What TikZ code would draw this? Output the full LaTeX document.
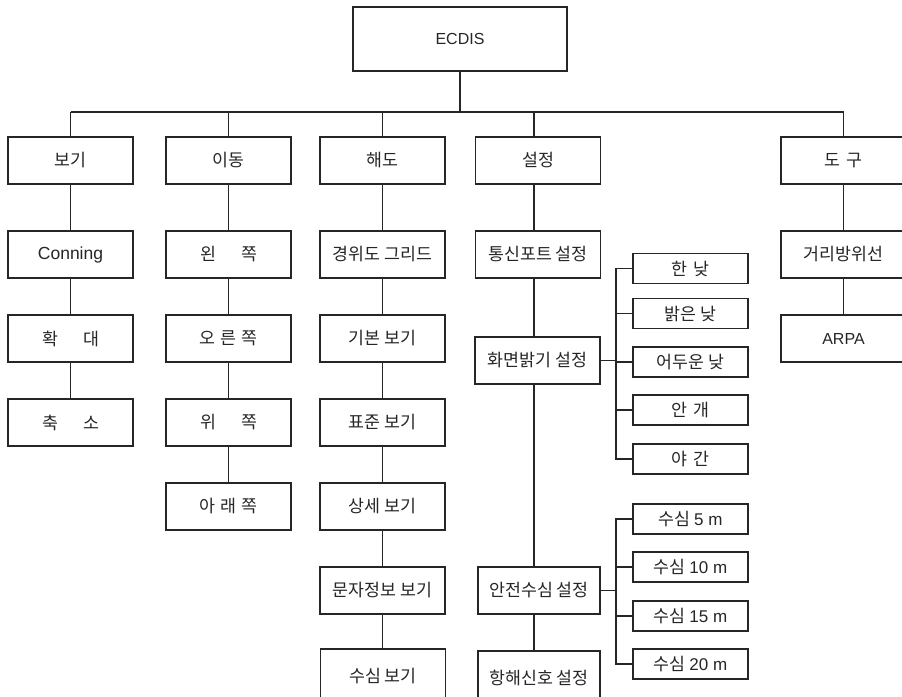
\documentclass[tikz,border=0pt]{standalone}
\usepackage{fontspec}
\setmainfont{Noto Sans CJK KR}
\newfontfamily\lat{Liberation Sans}
\newcommand\widegap{\hspace{1.45em}}
\newcommand\narrowgap{\hspace{0.3em}}
\begin{document}
\begin{tikzpicture}[x=1pt,y=-1pt,
  box/.style={draw=black!85, line width=1.6pt, fill=white, inner sep=0pt, text=black!85, font=\fontsize{17.3}{20}\selectfont},
  top/.style={box, minimum width=125pt, minimum height=47pt},
  sub/.style={box, minimum width=115pt, minimum height=30pt},
  ln/.style={draw=black!85, line width=1.6pt},
  caps/.style={font=\lat\fontsize{16}{18}\selectfont},
  latn/.style={font=\lat\fontsize{17.5}{20}\selectfont}]
\useasboundingbox (0,0) rectangle (902,696);
\clip (0,0) rectangle (902,696);
% root
\node[box, caps, minimum width=214pt, minimum height=64pt] (ecdis) at (460,39) {ECDIS};
% row 1
\node[top] (bogi) at (70.5,160.5) {보기};
\node[top] (idong) at (228.5,160.5) {이동};
\node[top] (haedo) at (382.5,160.5) {해도};
\node[top] (seol) at (538,160.5) {설정};
\node[top] (dogu) at (843.5,160.5) {도\narrowgap 구};
% row 2
\node[top, latn] (conning) at (70.5,254.5) {Conning};
\node[top] (wen) at (228.5,254.5) {왼\widegap 쪽};
\node[top] (grid) at (382.5,254.5) {경위도 그리드};
\node[top] (tong) at (538,254.5) {통신포트 설정};
\node[top] (geori) at (843.5,254.5) {거리방위선};
% row 3
\node[top] (hwak) at (70.5,338.5) {확\widegap 대};
\node[top] (oreun) at (228.5,338.5) {오\narrowgap 른\narrowgap 쪽};
\node[top] (gibon) at (382.5,338.5) {기본 보기};
\node[top, caps] (arpa) at (843.5,338.5) {ARPA};
\node[top] (hwa) at (537.5,360.5) {화면밝기 설정};
% row 4
\node[top] (chuk) at (70.5,422.5) {축\widegap 소};
\node[top] (wi) at (228.5,422.5) {위\widegap 쪽};
\node[top] (pyo) at (382.5,422.5) {표준 보기};
% row 5
\node[top] (arae) at (228.5,506.5) {아\narrowgap 래\narrowgap 쪽};
\node[top] (sang) at (382.5,506.5) {상세 보기};
% row 6
\node[top] (munja) at (382.5,590.5) {문자정보 보기};
\node[top, minimum width=122pt] (anjeon) at (539,590.5) {안전수심 설정};
% row 7 (cut by the lower edge)
\node[top, minimum height=60pt] (susim) at (383,679) {\raisebox{6.5pt}{수심 보기}};
\node[top, minimum width=122pt, minimum height=60pt] (hang) at (539,681) {\raisebox{6.5pt}{항해신호 설정}};
% brightness
\node[sub] (han) at (690.5,268.5) {한\narrowgap 낮};
\node[sub] (balg) at (690.5,313.5) {밝은 낮};
\node[sub] (eodu) at (690.5,362) {어두운 낮};
\node[sub] (angae) at (690.5,410) {안\narrowgap 개};
\node[sub] (yagan) at (690.5,459) {야\narrowgap 간};
% depth
\node[sub] (s5) at (690.5,519) {수심 {\lat\fontsize{17}{20}\selectfont 5 m}};
\node[sub] (s10) at (690.5,567) {수심 {\lat\fontsize{17}{20}\selectfont 10 m}};
\node[sub] (s15) at (690.5,616) {수심 {\lat\fontsize{17}{20}\selectfont 15 m}};
\node[sub] (s20) at (690.5,664) {수심 {\lat\fontsize{17}{20}\selectfont 20 m}};
% connectors
\coordinate (bus) at (0,112);
\coordinate (sx) at (534,0);
\coordinate (bx) at (616,0);
\draw[ln] (ecdis.south) -- (ecdis.south |- bus);
\draw[ln] (bogi.north |- bus) -- (dogu.north |- bus);
\foreach \n in {bogi,idong,haedo,dogu}{\draw[ln] (\n.north) -- (\n.north |- bus);}
\draw[ln] (seol.north -| sx) -- (bus -| sx);
\draw[ln] (bogi) -- (conning) (conning) -- (hwak) (hwak) -- (chuk);
\draw[ln] (idong) -- (wen) (wen) -- (oreun) (oreun) -- (wi) (wi) -- (arae);
\draw[ln] (haedo) -- (grid) (grid) -- (gibon) (gibon) -- (pyo) (pyo) -- (sang) (sang) -- (munja) (munja.south) -- (munja.south |- susim.north);
\draw[ln] (dogu) -- (geori) (geori) -- (arpa);
\draw[ln] (seol.south -| sx) -- (tong.north -| sx);
\draw[ln] (tong.south -| sx) -- (hwa.north -| sx);
\draw[ln] (hwa.south -| sx) -- (anjeon.north -| sx);
\draw[ln] (anjeon.south -| sx) -- (hang.north -| sx);
% brackets
\draw[ln] (han.west) -- (han.west -| bx) -- (yagan.west -| bx) -- (yagan.west);
\foreach \n in {balg,eodu,angae}{\draw[ln] (\n.west) -- (\n.west -| bx);}
\draw[ln] (hwa.east) -- (hwa.east -| bx);
\draw[ln] (s5.west) -- (s5.west -| bx) -- (s20.west -| bx) -- (s20.west);
\foreach \n in {s10,s15}{\draw[ln] (\n.west) -- (\n.west -| bx);}
\draw[ln] (anjeon.east) -- (anjeon.east -| bx);
\end{tikzpicture}
\end{document}
